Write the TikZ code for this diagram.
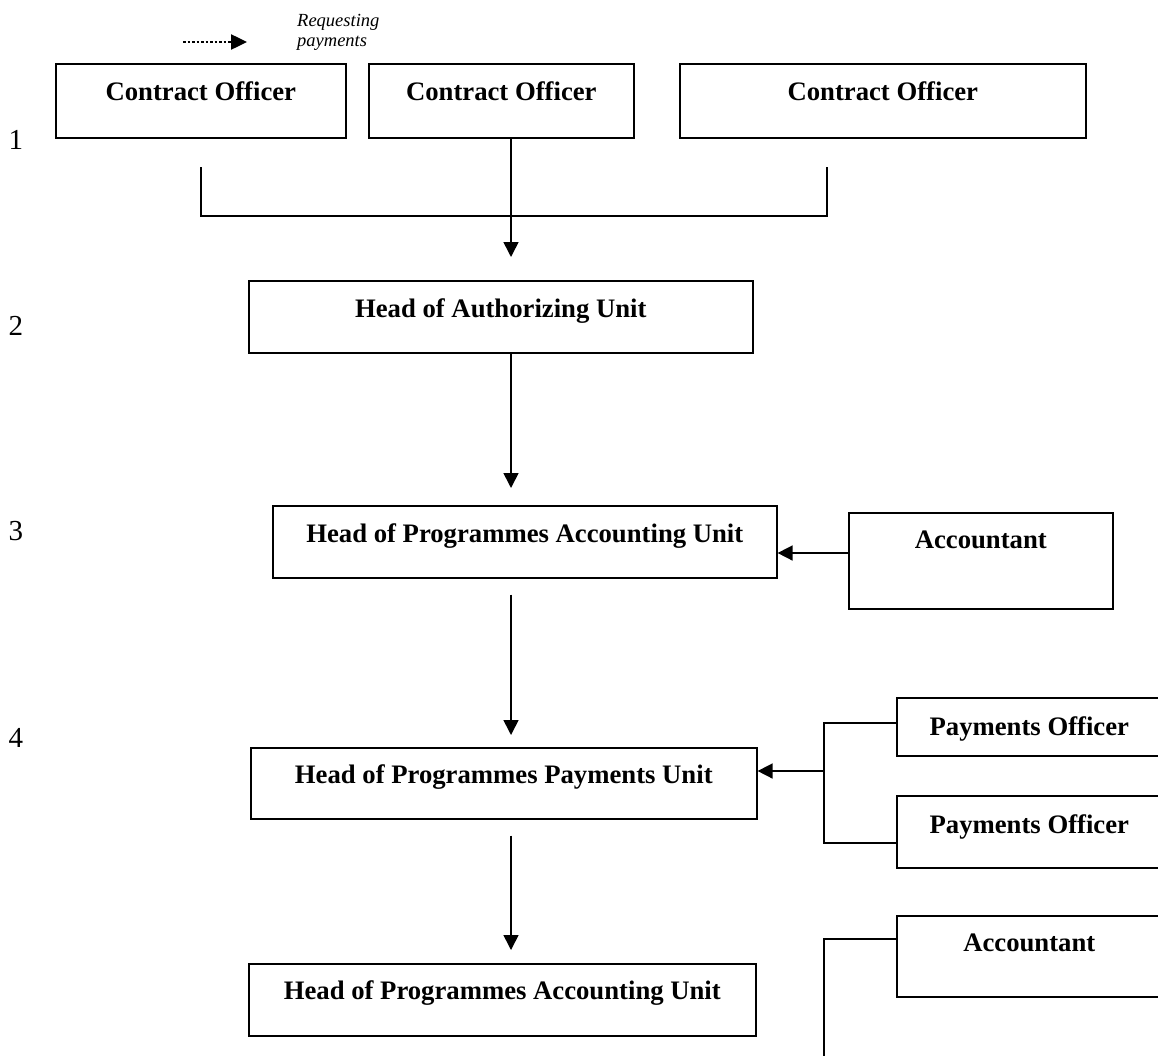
\documentclass[tikz,border=0pt]{standalone}
\usepackage{fontspec}
\setmainfont{Liberation Serif}
\usetikzlibrary{arrows.meta}
\begin{document}
\begin{tikzpicture}[x=1pt,y=-1pt,
  stepbox/.style={draw, line width=1.6pt, rectangle, inner sep=0pt, anchor=north west,
    font=\fontsize{26.7}{30}\selectfont\bfseries, text height=18pt},
  link/.style={line width=1.6pt},
  flow/.style={line width=1.6pt, -{Triangle[length=15pt,width=15pt]}},
  rowno/.style={font=\fontsize{29}{32}\selectfont, inner sep=0pt, anchor=base},
  keyline/.style={line width=2.5pt, dash pattern=on 2.5pt off 2pt, -{Triangle[length=16pt,width=15pt]}}]
\useasboundingbox (0,0) rectangle (1158,1055);

% legend
\coordinate (keyA) at (183,42);
\coordinate (keyB) at (247,42);
\draw[keyline] (keyA) -- (keyB);
\node[anchor=base west, inner sep=0pt, align=left,
  font=\fontsize{18.5}{20}\selectfont\itshape] (req) at (297,46) {Requesting\\payments};

% level numbers
\node[rowno] (n1) at (16,149) {1};
\node[rowno] (n2) at (16,335) {2};
\node[rowno] (n3) at (16,540) {3};
\node[rowno] (n4) at (16,747) {4};

% boxes
\node[stepbox, minimum width=290pt, minimum height=74pt, text depth=18pt] (co1) at (55,63) {Contract Officer};
\node[stepbox, minimum width=265pt, minimum height=74pt, text depth=18pt] (co2) at (368,63) {Contract Officer};
\node[stepbox, minimum width=406pt, minimum height=74pt, text depth=18pt] (co3) at (679,63) {Contract Officer};
\node[stepbox, minimum width=504pt, minimum height=72pt, text depth=16pt] (hau) at (248,280) {Head of Authorizing Unit};
\node[stepbox, minimum width=504pt, minimum height=72pt, text depth=16pt] (hpau) at (272,505) {Head of Programmes Accounting Unit};
\node[stepbox, minimum width=264pt, minimum height=96pt, text depth=42pt] (acc1) at (848,512) {Accountant};
\node[stepbox, minimum width=506pt, minimum height=71pt, text depth=17pt] (hppu) at (250,747) {Head of Programmes Payments Unit};
\node[stepbox, minimum width=265pt, minimum height=58pt, text depth=0pt] (po1) at (896,697) {Payments Officer};
\node[stepbox, minimum width=265pt, minimum height=72pt, text depth=14pt] (po2) at (896,795) {Payments Officer};
\node[stepbox, minimum width=265pt, minimum height=81pt, text depth=27pt] (acc2) at (896,915) {Accountant};
\node[stepbox, minimum width=507pt, minimum height=72pt, text depth=18pt] (hpau2) at (248,963) {Head of Programmes Accounting Unit};

% main column
\coordinate (col) at (511,0);
\coordinate (stubL) at (201,167);
\coordinate (stubR) at (827,167);
\draw[link] (stubL) -- (stubL |- 0,216) -- (stubR |- 0,216) -- (stubR);
\draw[flow, shorten >=23pt] (co2.south -| col) -- (hau.north -| col);
\draw[flow, shorten >=17pt] (hau.south -| col) -- (hpau.north -| col);
\draw[flow, shorten <=16pt, shorten >=12pt] (hpau.south -| col) -- (hppu.north -| col);
\draw[flow, shorten <=16pt, shorten >=13pt] (hppu.south -| col) -- (hpau2.north -| col);

% side inputs
\coordinate (accy) at (0,553);
\draw[flow] (acc1.west |- accy) -- (hpau.east |- accy);

\coordinate (pobus) at (824,771);
\draw[link] (po1.west |- 0,723) -- (pobus |- 0,723) -- (pobus |- 0,843) -- (po2.west |- 0,843);
\draw[flow] (pobus) -- (hppu.east |- pobus);

\coordinate (accbus) at (824,939);
\coordinate (accend) at (824,1060);
\draw[link] (acc2.west |- accbus) -- (accbus) -- (accend);
\end{tikzpicture}
\end{document}
